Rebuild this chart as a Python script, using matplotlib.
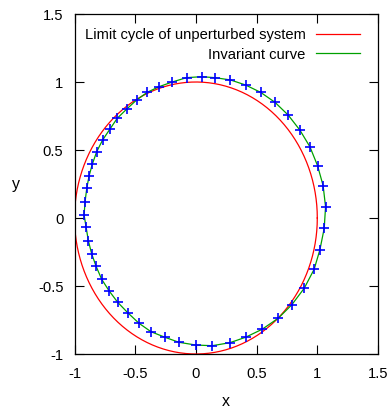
import numpy as np
import matplotlib
matplotlib.use("Agg")
import matplotlib.pyplot as plt

# invariant curve points
curve_x = [0.285, 0.409, 0.533, 0.651, 0.760, 0.856, 0.939, 1.002, 1.048, 1.068,
           1.057, 1.021, 0.974, 0.892, 0.788, 0.678, 0.546, 0.409, 0.280, 0.134,
           -0.002, -0.140, -0.255, -0.370, -0.469, -0.562, -0.644, -0.714, -0.776, -0.823,
           -0.858, -0.886, -0.905, -0.921, -0.913, -0.899, -0.880, -0.853, -0.817, -0.768,
           -0.708, -0.648, -0.570, -0.488, -0.401, -0.305, -0.195, -0.077, 0.047, 0.156]
curve_y = [1.015, 0.978, 0.924, 0.851, 0.757, 0.647, 0.524, 0.385, 0.238, 0.083,
           -0.076, -0.235, -0.377, -0.517, -0.640, -0.737, -0.818, -0.877, -0.917, -0.939,
           -0.934, -0.914, -0.877, -0.836, -0.774, -0.696, -0.620, -0.537, -0.451, -0.353,
           -0.265, -0.167, -0.064, 0.022, 0.120, 0.218, 0.309, 0.397, 0.488, 0.574,
           0.654, 0.733, 0.801, 0.868, 0.924, 0.965, 1.000, 1.032, 1.039, 1.032]

cycle_radius = 1.0
ticks = [-1, -0.5, 0, 0.5, 1, 1.5]
tick_labels = ["-1", "-0.5", "0", "0.5", "1", "1.5"]

plt.rcParams['font.family'] = ['Liberation Sans', 'DejaVu Sans']
plt.rcParams['font.size'] = 10.6

fig = plt.figure(figsize=(3.88, 4.08), dpi=100)
ax = fig.add_axes([74.5 / 388, 1 - 354 / 408, (378 - 74.5) / 388, (354 - 14) / 408])

theta = np.linspace(0, 2 * np.pi, 400)
ax.plot(cycle_radius * np.cos(theta), cycle_radius * np.sin(theta),
        color='#ff0000', lw=0.9, label='Limit cycle of unperturbed system')

cx = curve_x + curve_x[:1]
cy = curve_y + curve_y[:1]
ax.plot(cx, cy, color='#00a000', lw=0.9, label='Invariant curve')
ax.plot(curve_x, curve_y, ls='none', marker='+', ms=7.5, mew=1.2, color='#0000ff')

ax.set_xlim(-1, 1.5)
ax.set_ylim(-1, 1.5)
ax.set_xticks(ticks)
ax.set_xticklabels(tick_labels)
ax.set_yticks(ticks)
ax.set_yticklabels(tick_labels)
ax.tick_params(direction='in', length=6.5, width=0.8, top=True, right=True, pad=9)
ax.tick_params(axis='y', pad=8)
for s in ax.spines.values():
    s.set_linewidth(0.9)

ax.set_xlabel('x', fontsize=11.5, labelpad=10)
ax.set_ylabel('y', fontsize=11.5, rotation=0, labelpad=16, va='center')

ax.legend(loc='upper right', bbox_to_anchor=(0.96, 0.975), frameon=False,
          markerfirst=False, handlelength=3.0, handletextpad=0.7,
          labelspacing=0.35, borderaxespad=0)

fig.savefig('out.png', dpi=100)
